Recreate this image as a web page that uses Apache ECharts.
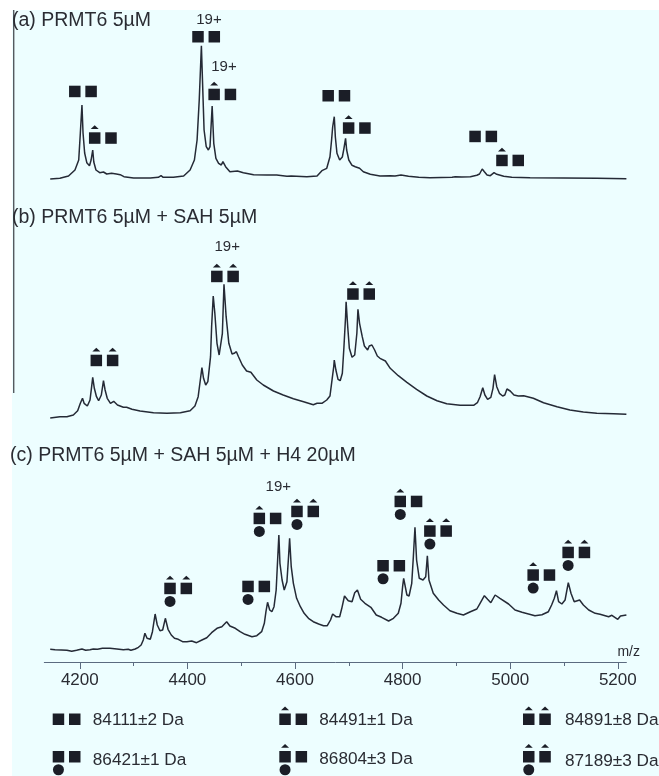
<!DOCTYPE html>
<html><head><meta charset="utf-8">
<style>html,body{margin:0;padding:0;background:#fff}#c{width:659px;height:776px}</style>
<script src="https://cdn.jsdelivr.net/npm/echarts@6/dist/echarts.min.js"></script></head>
<body><div id="c"></div>
<script>
// m/z tick labels
const majorTicks=[4200,4400,4600,4800,5000,5200];
const minorTicks=[4300,4500,4700,4900,5100];
// panel titles
const panelTitles=['(a) PRMT6 5µM','(b) PRMT6 5µM + SAH 5µM','(c) PRMT6 5µM + SAH 5µM + H4 20µM'];
// spectra: [m/z, relative intensity]
const traceA=[[4145,11],[4163,11.7],[4179,14],[4191,20],[4198,30],[4201,57],[4204,85],[4206,57],[4209,37],[4213,27.3],[4218,24.3],[4221,30],[4224,40],[4226,28],[4230,20],[4237,17.3],[4244,18],[4250,16],[4259,16.7],[4268,16],[4275,15.3],[4282,13.3],[4300,12],[4331,12],[4346,12.7],[4351,14.3],[4355,12.7],[4374,12.7],[4393,14],[4405,20],[4413,30],[4418,50],[4422,90],[4426,144.3],[4429,93.3],[4431,60],[4435,43.3],[4439,40],[4442,43.3],[4446,84],[4449,46.7],[4453,31.7],[4458,26.7],[4463,25],[4466,28.3],[4471,23.3],[4479,18.3],[4493,19],[4504,17.3],[4523,15.3],[4548,15],[4566,15],[4585,13.7],[4593,14],[4622,13.3],[4641,14],[4650,19.3],[4659,21.7],[4665,33.3],[4668,50],[4670,63],[4673,73.3],[4675,53],[4678,36.7],[4683,30],[4688,33],[4691,41.7],[4694,51.7],[4696,40],[4700,30],[4706,24.7],[4712,23.3],[4715,25],[4720,21.7],[4727,18.3],[4740,15.7],[4758,14],[4777,14.3],[4786,14],[4797,15],[4811,13.7],[4830,12.7],[4851,12.3],[4892,12.7],[4898,13.3],[4910,13],[4926,13.3],[4938,14.7],[4943,16],[4948,21],[4952,18.3],[4957,15],[4963,14.3],[4970,17.3],[4975,15.7],[4988,13.7],[5003,12.7],[5037,12.3],[5099,12],[5161,11.7],[5216,11.3]];
const traceB=[[4145,12],[4163,13.3],[4176,13.3],[4188,15],[4196,19.3],[4201,26.7],[4205,31.7],[4208,26.7],[4214,24],[4219,30],[4222,43.3],[4224,52.7],[4227,41.7],[4231,33.3],[4235,29.3],[4240,35],[4244,49.3],[4247,40],[4251,31.7],[4257,26.7],[4263,28.7],[4270,25],[4281,22.7],[4287,22.7],[4297,20.7],[4312,19],[4337,17.3],[4362,16.7],[4387,17.3],[4405,19.3],[4414,24],[4420,33.3],[4424,50],[4427,62.3],[4430,51.7],[4434,45],[4438,48.3],[4443,73.3],[4445,103.3],[4448,134],[4451,116.7],[4455,86.7],[4459,75],[4462,76],[4465,96.7],[4468,145.7],[4472,113.3],[4477,86.7],[4483,76],[4487,76.7],[4491,78.3],[4495,73.3],[4502,65],[4510,59],[4518,57.7],[4529,50],[4541,45],[4560,39],[4578,35],[4597,31.3],[4616,28.3],[4634,25.3],[4641,26.7],[4650,26.7],[4659,30],[4665,34],[4668,46.7],[4672,63.3],[4673,70],[4676,60],[4680,50.7],[4684,49.3],[4688,56.7],[4691,83.3],[4694,113.3],[4695,128.3],[4698,103.3],[4701,81.7],[4706,72.7],[4711,75],[4715,96.7],[4717,120.7],[4720,106.7],[4725,93.3],[4729,84],[4735,80],[4738,84],[4743,85],[4748,80],[4753,74],[4758,71.7],[4768,69],[4777,61.7],[4792,54.3],[4808,47.7],[4826,40.7],[4845,34],[4864,29.3],[4882,26.3],[4907,24.7],[4932,24.7],[4939,27.3],[4944,33.3],[4949,42.3],[4953,35],[4958,30.7],[4964,32.7],[4968,41.7],[4971,55.3],[4975,43.3],[4980,36.7],[4986,34],[4990,35],[4994,41],[5000,39],[5007,35],[5015,34],[5025,34.3],[5043,31.7],[5062,27.3],[5087,23.3],[5111,20],[5136,18],[5161,16.7],[5192,16.3],[5216,15.7]];
const traceC=[[4145,12.7],[4154,12.3],[4166,12],[4176,11.7],[4185,10.7],[4194,11.7],[4204,13],[4211,11.7],[4219,12.3],[4225,13],[4233,12.7],[4242,13.7],[4256,13.7],[4269,13],[4281,12.3],[4290,12.7],[4295,11.7],[4303,13],[4309,14.7],[4314,17],[4318,22],[4321,28.7],[4325,23.7],[4331,22.7],[4335,30.3],[4340,48],[4344,37],[4349,31.3],[4354,32],[4359,43.7],[4364,32.7],[4370,27],[4376,23.7],[4383,22.7],[4391,20.3],[4399,20.3],[4408,21],[4417,19.3],[4427,22],[4436,24.3],[4445,29.3],[4455,33.7],[4464,35.3],[4473,40.3],[4479,36],[4489,33.7],[4498,30.3],[4507,27.7],[4520,25.3],[4529,26.3],[4538,30.3],[4543,38.7],[4546,50.3],[4549,59.7],[4553,52],[4557,50.3],[4561,55.3],[4565,72],[4568,105.3],[4570,127],[4572,98.7],[4576,82],[4580,72],[4585,80.3],[4588,105.3],[4590,123.7],[4593,95.3],[4597,78.7],[4603,63.7],[4610,55.3],[4617,48.7],[4625,43.7],[4634,40.3],[4644,38],[4653,36.3],[4660,36.3],[4666,42],[4670,48],[4676,45.3],[4683,45.3],[4687,53.7],[4692,66],[4699,61.3],[4706,60.3],[4711,69.3],[4716,72],[4722,62.7],[4730,58.7],[4741,54.7],[4751,47],[4761,44.7],[4774,41],[4783,43.7],[4792,48.7],[4797,58.7],[4800,75.3],[4802,83.7],[4808,67],[4812,66],[4817,78.7],[4820,105.3],[4823,134.7],[4826,102],[4831,83.7],[4838,82],[4843,85.3],[4846,106.3],[4849,82],[4851,78.7],[4857,68.7],[4867,62],[4876,57],[4888,51.3],[4901,48.7],[4913,47],[4926,50.3],[4938,53],[4944,58.7],[4952,66.3],[4958,62.7],[4964,59.3],[4972,67],[4981,63.7],[4997,58],[5009,52],[5022,49.7],[5034,48],[5046,46.3],[5059,47.3],[5071,50.3],[5077,57],[5082,63.7],[5086,71.3],[5090,60.3],[5096,58],[5102,62],[5108,79.3],[5113,68.7],[5119,60.3],[5129,62],[5136,57],[5146,52],[5158,48.7],[5167,47.7],[5183,45.3],[5189,46.7],[5200,42.7],[5205,46],[5216,47]];
// glyph annotations: [m/z, intensity, code]  s=square, t=capped square, trailing c=circle
const glyphsA=[[4180,104.3,'ss'],[4217,57.7,'ts'],[4409,159,'ss'],[4439,101.3,'ts'],[4651,100,'ss'],[4689,67.7,'ts'],[4924,59.3,'ss'],[4974,35.3,'ts']];
const glyphsB=[[4220,75.3,'tt'],[4444,159.3,'tt'],[4697,141.7,'tt']];
const glyphsC=[[4357,79.3,'ttc'],[4502,81.3,'ssc'],[4523,149.3,'tsc'],[4593,156.3,'ttc'],[4753,102,'ssc'],[4785,166.3,'tsc'],[4840,136.7,'ttc'],[5032,92.7,'tsc'],[5097,115.3,'ttc']];
// charge-state labels
const chargeA=[[4440,170,'19+'],[4468,123.3,'19+']];
const chargeB=[[4474,183.3,'19+']];
const chargeC=[[4569,175,'19+']];
// mass legend
const legendCodes=['ss','ts','tt','ssc','tsc','ttc'];
const legendMasses=['84111±2 Da','84491±1 Da','84891±8 Da','86421±1 Da','86804±3 Da','87189±3 Da'];

const INK='#1b1e27', LINE='#252a36', TXT='#2a2c33', AXIS='#5b6b80', BG='#edfeff';
const FONT='"Liberation Sans",Arial,sans-serif';

function glyphChildren(x,y,code){
  const out=[],w=11.5,h=11.5,pitch=16.3;
  const sq=(px)=>out.push({type:'rect',shape:{x:px,y:y,width:w,height:h},style:{fill:INK}});
  const tri=(px)=>out.push({type:'polygon',shape:{points:[[px+w/2-4,y-3.3],[px+w/2+4,y-3.3],[px+w/2,y-7]]},style:{fill:INK}});
  sq(x);sq(x+pitch);
  if(code[0]==='t')tri(x);
  if(code[1]==='t')tri(x+pitch);
  if(code[2]==='c')out.push({type:'circle',shape:{cx:x+w/2,cy:y+h/2+13,r:5.5},style:{fill:INK}});
  return out;
}
function glyphSeries(idx,data){
  return {type:'custom',xAxisIndex:idx,yAxisIndex:idx,data:data,silent:true,z:5,
    encode:{x:0,y:1},
    renderItem:(p,api)=>{
      const c=api.coord([api.value(0),api.value(1)]);
      return {type:'group',children:glyphChildren(c[0],c[1],data[p.dataIndex][2])};
    }};
}
function chargeSeries(idx,data){
  return {type:'custom',xAxisIndex:idx,yAxisIndex:idx,data:data,silent:true,z:5,
    encode:{x:0,y:1},
    renderItem:(p,api)=>{
      const c=api.coord([api.value(0),api.value(1)]);
      return {type:'text',x:c[0],y:c[1],style:{text:data[p.dataIndex][2],fill:TXT,font:'15px '+FONT,align:'center',verticalAlign:'middle'}};
    }};
}
function traceSeries(idx,data){
  return {type:'line',xAxisIndex:idx,yAxisIndex:idx,data:data,showSymbol:false,symbol:'none',silent:true,
    lineStyle:{color:LINE,width:1.5},z:3};
}
const hiddenX=(i)=>({type:'value',gridIndex:i,min:4134,max:5216,show:false});
const hiddenY=(i,max)=>({type:'value',gridIndex:i,min:0,max:max,show:false});

// legend + frame decoration
const legendCols=[52.7,279.3,523], legendTextCols=[92.8,319.3,565], legendRows=[713.5,751];
const legendTextY=[720,720.7,720.7,760,759,761.7];
const deco=[
  {type:'rect',silent:true,z:-10,shape:{x:12,y:10,width:647,height:766},style:{fill:BG}},
  {type:'rect',silent:true,z:-9,shape:{x:13,y:10,width:1.4,height:383},style:{fill:'#555a60'}},
  {type:'text',x:640,y:652,style:{text:'m/z',fill:TXT,font:'14px '+FONT,align:'right',verticalAlign:'middle'}}
];
legendCodes.forEach((code,i)=>{
  const col=i%3,row=Math.floor(i/3);
  deco.push({type:'group',silent:true,children:glyphChildren(legendCols[col],legendRows[row],code)});
  deco.push({type:'text',x:legendTextCols[col],y:legendTextY[i],style:{text:legendMasses[i],fill:TXT,font:'17.2px '+FONT,verticalAlign:'middle'}});
});

const chart=echarts.init(document.getElementById('c'),null,{renderer:'canvas'});
chart.setOption({
  animation:false,
  backgroundColor:'#fff',
  title:[[12,19],[12,215.7],[10,454]].map((p,i)=>({text:panelTitles[i],left:p[0],top:p[1]-8,padding:0,
    textStyle:{color:TXT,fontFamily:FONT,fontSize:19.5,fontWeight:'normal',lineHeight:20}})),
  grid:[
    {left:44.3,width:582.1,top:0,height:190},
    {left:44.3,width:582.1,top:200,height:230},
    {left:44.3,width:582.1,top:470,height:192}
  ],
  xAxis:[hiddenX(0),hiddenX(1),
    {type:'value',gridIndex:2,min:4134,max:5216,
      splitLine:{show:false},
      axisLine:{show:true,lineStyle:{color:AXIS,width:1}},
      axisTick:{show:true,length:7,customValues:majorTicks,lineStyle:{color:AXIS}},
      axisLabel:{show:true,customValues:majorTicks,margin:10,color:TXT,fontFamily:FONT,fontSize:17,formatter:v=>String(v)}},
    {type:'value',gridIndex:2,min:4134,max:5216,position:'bottom',
      splitLine:{show:false},
      axisLine:{show:false},
      axisTick:{show:true,length:4,customValues:minorTicks,lineStyle:{color:AXIS}},
      axisLabel:{show:false}}
  ],
  yAxis:[hiddenY(0,190),hiddenY(1,230),hiddenY(2,192)],
  series:[
    traceSeries(0,traceA),traceSeries(1,traceB),traceSeries(2,traceC),
    glyphSeries(0,glyphsA),glyphSeries(1,glyphsB),glyphSeries(2,glyphsC),
    chargeSeries(0,chargeA),chargeSeries(1,chargeB),chargeSeries(2,chargeC)
  ],
  graphic:{elements:deco}
});
</script></body></html>
